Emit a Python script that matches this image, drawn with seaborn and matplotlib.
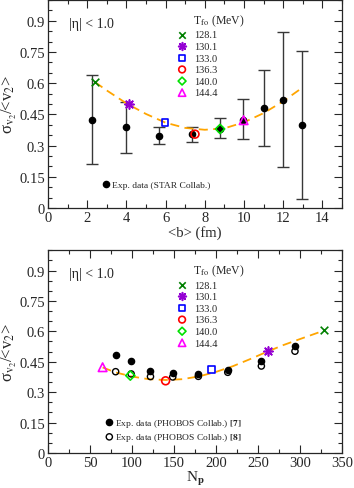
import numpy as np
import pandas as pd
import matplotlib
matplotlib.use("Agg")
import matplotlib.pyplot as plt
from matplotlib.ticker import MultipleLocator
import seaborn as sns

# top panel: STAR data vs <b>
b_star = [2.25, 4.0, 5.65, 7.35, 8.75, 9.95, 11.0, 12.0, 12.95]
sig_star = [0.424, 0.388, 0.348, 0.354, 0.380, 0.423, 0.479, 0.520, 0.399]
star_lo = [0.210, 0.266, 0.306, 0.319, 0.335, 0.331, 0.296, 0.195, 0.042]
star_hi = [0.641, 0.511, 0.388, 0.389, 0.434, 0.522, 0.661, 0.844, 0.753]

# model points (one per freeze-out temperature)
t_fo = ["128.1", "130.1", "133.0", "136.3", "140.0", "144.4"]
b_model = [2.42, 4.14, 5.97, 7.5, 8.78, 9.98]
np_model = [329, 262, 195, 140, 98, 65]
sig_model_b = [0.605, 0.500, 0.410, 0.355, 0.380, 0.422]
sig_model_np = [0.606, 0.505, 0.410, 0.356, 0.382, 0.423]

# dashed fit curves
b_curve = [2.4, 3.0, 4.0, 5.0, 6.0, 7.0, 8.0, 9.0, 10.0, 11.0, 12.0, 13.0]
sig_curve_b = [0.605, 0.565, 0.503, 0.452, 0.410, 0.385, 0.376, 0.383, 0.412, 0.456, 0.513, 0.580]
np_curve = [65, 80, 100, 120, 140, 160, 180, 200, 220, 240, 260, 280, 300, 330]
sig_curve_np = [0.422, 0.398, 0.377, 0.364, 0.360, 0.364, 0.378, 0.400, 0.428, 0.462, 0.498, 0.532, 0.562, 0.606]

# bottom panel: PHOBOS data vs Np
np_phobos = [80.5, 99, 122, 148.5, 179, 214, 254, 294]
sig_phobos7 = [0.484, 0.452, 0.403, 0.395, 0.391, 0.410, 0.455, 0.530]
sig_phobos8 = [0.401, 0.390, 0.377, 0.375, 0.378, 0.398, 0.429, 0.502]

markers = ["x", (8, 2, 0), "s", "o", "D", "^"]
colors = ["#008000", "#9400d3", "#0000ff", "#ff0000", "#00e000", "#ff00ff"]
msizes = [30, 42, 24, 32, 22, 38]

sns.set_style("ticks")
plt.rcParams["font.family"] = ["Liberation Serif", "DejaVu Serif"]
plt.rcParams["mathtext.fontset"] = "stix"

fig = plt.figure(figsize=(3.54, 4.89), dpi=100)
ax1 = fig.add_axes([0.1356, 0.5726, 0.8305, 0.4254])
ax2 = fig.add_axes([0.1356, 0.0716, 0.8305, 0.4146])

ylab = "σ$_{{\\rm v}_2}$/<v$_2$>"


def style_axis(ax, xmaj, xmin, xmax):
    ax.set_xlim(0, xmax)
    ax.set_ylim(0, 1.0)
    ax.xaxis.set_major_locator(MultipleLocator(xmaj))
    ax.xaxis.set_minor_locator(MultipleLocator(xmin))
    ax.set_yticks([0, 0.15, 0.3, 0.45, 0.6, 0.75, 0.9])
    ax.set_yticklabels(["0", "0.15", "0.3", "0.45", "0.6", "0.75", "0.9"])
    ax.yaxis.set_minor_locator(MultipleLocator(0.05))
    ax.tick_params(which="both", direction="in", top=True, right=True,
                   labelsize=10.5, width=0.8, pad=2)
    ax.tick_params(which="major", length=6)
    ax.tick_params(which="minor", length=3)
    for s in ax.spines.values():
        s.set_linewidth(0.9)
    ax.set_ylabel(ylab, fontsize=12)
    ax.yaxis.set_label_coords(-0.10, 0.5)
    ax.text(0.07, 0.885, "|η| < 1.0", transform=ax.transAxes,
            fontsize=10, ha="left", va="center")


def model_legend(ax, handles):
    leg = ax.legend(handles=handles, labels=t_fo, loc="upper left",
                    bbox_to_anchor=(0.41, 0.975), frameon=False,
                    fontsize=7.5, title="      T$_{\\rm fo}$ (MeV)",
                    title_fontsize=8.5, handletextpad=0.6, markerscale=0.85,
                    labelspacing=0.22, borderpad=0.2, handlelength=1.2)
    leg._legend_box.align = "left"
    return leg


# ---- top panel ----
star_df = pd.DataFrame({"b": b_star, "sig": sig_star})
ax1.errorbar(b_star, sig_star,
             yerr=[np.array(sig_star) - np.array(star_lo),
                   np.array(star_hi) - np.array(sig_star)],
             fmt="none", ecolor="#383838", elinewidth=1.0, capsize=4,
             capthick=1.0, zorder=1)
sns.lineplot(x=b_curve, y=sig_curve_b, ax=ax1, color="#ffa500",
             linestyle=(0, (5, 3)), linewidth=1.3, zorder=2)
h_star = ax1.scatter(star_df["b"], star_df["sig"], color="black", s=20,
                     zorder=3, label="Exp. data (STAR Collab.)")
handles1 = []
for i in range(len(t_fo)):
    open_m = markers[i] not in ("x", (8, 2, 0))
    h = ax1.scatter([b_model[i]], [sig_model_b[i]], marker=markers[i], s=msizes[i],
                    facecolors="none" if open_m else colors[i],
                    edgecolors=colors[i], linewidths=1.2, zorder=4)
    handles1.append(h)
leg1 = model_legend(ax1, handles1)
ax1.add_artist(leg1)
ax1.legend(handles=[h_star], loc="lower left", bbox_to_anchor=(0.16, 0.06),
           frameon=False, fontsize=6.8, handletextpad=0.1, handlelength=1.0,
           borderpad=0.2)
style_axis(ax1, 2, 1, 15)
ax1.set_xlabel("<b> (fm)", fontsize=10.5, labelpad=1)

# ---- bottom panel ----
sns.lineplot(x=np_curve, y=sig_curve_np, ax=ax2, color="#ffa500",
             linestyle=(0, (5, 3)), linewidth=1.3, zorder=2)
h7 = ax2.scatter(np_phobos, sig_phobos7, color="black", s=20, zorder=3,
                 label=r"Exp. data (PHOBOS Collab.) $\mathbf{[7]}$")
h8 = ax2.scatter(np_phobos, sig_phobos8, facecolors="none", edgecolors="black",
                 s=20, linewidths=1.0, zorder=3,
                 label=r"Exp. data (PHOBOS Collab.) $\mathbf{[8]}$")
handles2 = []
for i in range(len(t_fo)):
    open_m = markers[i] not in ("x", (8, 2, 0))
    h = ax2.scatter([np_model[i]], [sig_model_np[i]], marker=markers[i], s=msizes[i],
                    facecolors="none" if open_m else colors[i],
                    edgecolors=colors[i], linewidths=1.2, zorder=4)
    handles2.append(h)
leg2 = model_legend(ax2, handles2)
ax2.add_artist(leg2)
ax2.legend(handles=[h7, h8], loc="lower left", bbox_to_anchor=(0.17, 0.015),
           frameon=False, fontsize=6.8, handletextpad=0.1, handlelength=1.0,
           borderpad=0.2, labelspacing=0.3)
style_axis(ax2, 50, 25, 350)
ax2.set_xlabel(r"N$_{\mathbf{p}}$", fontsize=11, labelpad=0)

fig.savefig("out.png", dpi=100)
